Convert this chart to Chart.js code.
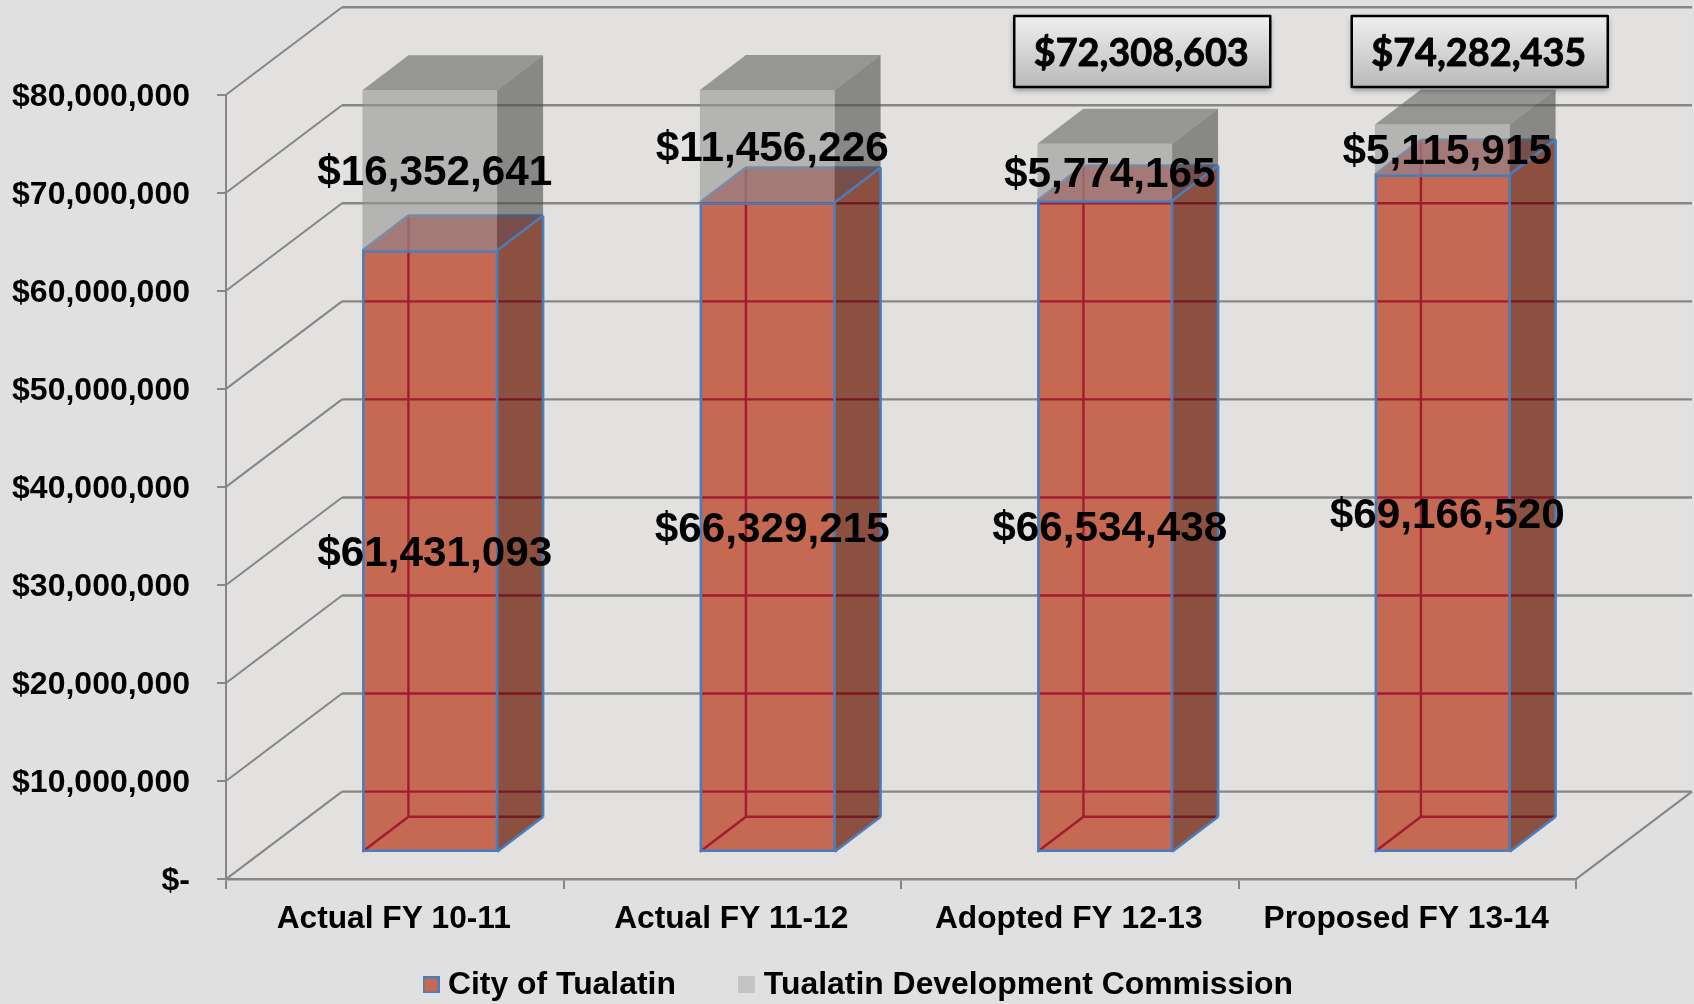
<!DOCTYPE html>
<html lang="en">
<head>
  <meta charset="UTF-8" />
  <title>City of Tualatin budget</title>
  <script src="https://cdn.jsdelivr.net/npm/chart.js"></script>
  <style>
    html, body { margin: 0; padding: 0; background: #e0e0e0; }
    canvas { display: block; }
  </style>
</head>
<body>
  <canvas id="chart" width="1694" height="1004"></canvas>
  <script>
    const categories = ['Actual FY 10-11', 'Actual FY 11-12', 'Adopted FY 12-13', 'Proposed FY 13-14'];
    const cityValues = [61431093, 66329215, 66534438, 69166520];
    const commissionValues = [16352641, 11456226, 5774165, 5115915];
    // only the last two columns carry a total box
    const totals = [null, null, 72308603, 74282435];
    const seriesNames = ['City of Tualatin', 'Tualatin Development Commission'];
    const tickMax = 80000000;
    const tickStep = 10000000;

    const FONT = '"Liberation Sans", Arial, sans-serif';
    const WALL = { x: 116, y: -87.5 };   // depth of the floor
    const BAR_OFFSET = { x: 35, y: -26.3 };  // front of the bars from the front of the floor
    const BAR_DEPTH = { x: 46, y: -35 };
    const GRID = '#868686';
    const BLUE = '#4a7ebb';
    const CRIMSON = '#a01c2e';
    const CRIMSON_DARK = '#741a24';

    function money(v) {
      return '$' + v.toLocaleString('en-US');
    }

    function swatch(fill, border) {
      const c = document.createElement('canvas');
      c.width = 17;
      c.height = 17;
      const g = c.getContext('2d');
      g.fillStyle = fill;
      g.fillRect(0, 0, 17, 17);
      if (border) {
        g.strokeStyle = border;
        g.lineWidth = 2;
        g.strokeRect(1, 1, 15, 15);
      }
      return c;
    }

    function poly(ctx, pts, fill) {
      ctx.beginPath();
      pts.forEach((p, i) => i ? ctx.lineTo(p[0], p[1]) : ctx.moveTo(p[0], p[1]));
      ctx.closePath();
      ctx.fillStyle = fill;
      ctx.fill();
    }

    function line(ctx, x1, y1, x2, y2, color, width) {
      ctx.beginPath();
      ctx.moveTo(x1, y1);
      ctx.lineTo(x2, y2);
      ctx.strokeStyle = color;
      ctx.lineWidth = width;
      ctx.stroke();
    }

    // front face rectangle of a bar element, moved to where it stands on the floor
    function face(bar) {
      return {
        l: bar.x - bar.width / 2 + BAR_OFFSET.x,
        r: bar.x + bar.width / 2 + BAR_OFFSET.x,
        t: bar.y + BAR_OFFSET.y,
        b: bar.base + BAR_OFFSET.y
      };
    }

    function sideFace(f) {
      return [[f.r, f.b], [f.r + BAR_DEPTH.x, f.b + BAR_DEPTH.y], [f.r + BAR_DEPTH.x, f.t + BAR_DEPTH.y], [f.r, f.t]];
    }

    function topFace(f) {
      return [[f.l, f.t], [f.r, f.t], [f.r + BAR_DEPTH.x, f.t + BAR_DEPTH.y], [f.l + BAR_DEPTH.x, f.t + BAR_DEPTH.y]];
    }

    const box3d = {
      id: 'box3d',
      afterLayout(chart) {
        // legend sits by hand under the axis labels
        chart.legend.left = 430 - chart.options.plugins.legend.labels.padding;
        chart.legend.right = chart.width;
        chart.legend.top = 985 - 16 - chart.options.plugins.legend.labels.padding;
      },
      beforeDraw(chart) {
        const { ctx, chartArea: a, scales: { y } } = chart;
        poly(ctx, [[a.left, a.bottom], [a.left, y.getPixelForValue(tickMax)], [a.left + WALL.x, y.getPixelForValue(tickMax) + WALL.y],
          [a.right + WALL.x, y.getPixelForValue(tickMax) + WALL.y], [a.right + WALL.x, a.bottom + WALL.y], [a.right, a.bottom]], '#e2e1df');
        for (let v = 0; v <= tickMax; v += tickStep) {
          const py = y.getPixelForValue(v);
          line(ctx, a.left, py, a.left + WALL.x, py + WALL.y, GRID, 2);
          line(ctx, a.left + WALL.x, py + WALL.y, a.right + WALL.x, py + WALL.y, GRID, 2.4);
        }
        line(ctx, a.right, a.bottom, a.right + WALL.x, a.bottom + WALL.y, GRID, 2);
      },
      beforeDatasetsDraw(chart) {
        const { ctx } = chart;
        const city = chart.getDatasetMeta(0).data;
        const comm = chart.getDatasetMeta(1).data;
        city.forEach((bar, i) => {
          const f = face(bar);
          const g = face(comm[i]);
          poly(ctx, sideFace(f), '#8c5041');
          poly(ctx, topFace(f), 'rgb(185,82,77)');
          // top edges and the hidden corner, these end up behind the grey block
          line(ctx, f.l + BAR_DEPTH.x, f.t + BAR_DEPTH.y, f.l + BAR_DEPTH.x, f.t, CRIMSON, 2.4);
          line(ctx, f.l, f.t, f.l + BAR_DEPTH.x, f.t + BAR_DEPTH.y, BLUE, 2.4);
          line(ctx, f.l + BAR_DEPTH.x, f.t + BAR_DEPTH.y, f.r + BAR_DEPTH.x, f.t + BAR_DEPTH.y, BLUE, 2.4);
          poly(ctx, sideFace(g), 'rgba(77,77,77,0.6)');
          poly(ctx, topFace(g), 'rgba(100,100,100,0.6)');
        });
        ctx.save();
        ctx.translate(BAR_OFFSET.x, BAR_OFFSET.y);
      },
      afterDatasetsDraw(chart) {
        const { ctx, scales: { y } } = chart;
        ctx.restore();
        const city = chart.getDatasetMeta(0).data;
        const comm = chart.getDatasetMeta(1).data;

        city.forEach((bar) => {
          const f = face(bar);
          const backL = f.l + BAR_DEPTH.x;
          const backR = f.r + BAR_DEPTH.x;
          const backB = f.b + BAR_DEPTH.y;
          const backT = f.t + BAR_DEPTH.y;
          // wall grid seen through the bar
          for (let v = 0; v <= tickMax; v += tickStep) {
            const py = y.getPixelForValue(v) + WALL.y;
            if (py > f.t) {
              line(ctx, f.l + 1, py, f.r, py, CRIMSON, 2.4);
              line(ctx, f.r, py, backR, py, CRIMSON_DARK, 2.4);
            }
          }
          // hidden edges
          line(ctx, backL, f.t, backL, backB, CRIMSON, 2.4);
          line(ctx, f.l, f.b, backL, backB, CRIMSON, 2.4);
          line(ctx, backL, backB, f.r, backB, CRIMSON, 2.4);
          line(ctx, f.r, backB, backR, backB, CRIMSON_DARK, 2.4);
          // visible edges
          ctx.lineJoin = 'round';
          line(ctx, f.r, f.t, f.r, f.b, BLUE, 2.6);
          line(ctx, f.l + 1, f.t, f.l + 1, f.b, BLUE, 2.6);
          line(ctx, f.l, f.b - 1, f.r, f.b - 1, BLUE, 2.6);
          line(ctx, f.l, f.t + 1, f.r, f.t + 1, BLUE, 2.6);
          line(ctx, f.r, f.t, backR, backT, BLUE, 2.6);
          line(ctx, backR, backT, backR, backB, BLUE, 2.6);
          line(ctx, f.r, f.b, backR, backB, BLUE, 2.6);
        });

        // value labels
        ctx.textAlign = 'center';
        ctx.textBaseline = 'middle';
        ctx.fillStyle = '#000';
        ctx.font = 'bold 42.3px ' + FONT;
        [[city, cityValues], [comm, commissionValues]].forEach(([bars, values]) => {
          bars.forEach((bar, i) => {
            const f = face(bar);
            ctx.fillText(money(values[i]), (f.l + f.r) / 2 + 5, (f.t + f.b) / 2 + 3);
          });
        });

        // total boxes
        totals.forEach((total, i) => {
          if (total === null) return;
          const cx = city[i].x + 72.5;
          const w = 256, top = 16, h = 71;
          const left = cx - w / 2;
          const grad = ctx.createLinearGradient(0, top, 0, top + h);
          grad.addColorStop(0, '#f0f0f0');
          grad.addColorStop(1, '#b9b9b9');
          ctx.save();
          ctx.shadowColor = 'rgba(0,0,0,0.4)';
          ctx.shadowBlur = 6;
          ctx.shadowOffsetY = 3;
          ctx.fillStyle = grad;
          ctx.fillRect(left, top, w, h);
          ctx.restore();
          ctx.strokeStyle = '#000';
          ctx.lineWidth = 2.5;
          ctx.strokeRect(left, top, w, h);
          ctx.fillStyle = '#000';
          ctx.font = 'bold 37.8px Lato, ' + FONT;
          ctx.fillText(money(total), cx - 1, top + h / 2 + 2);
          ctx.lineWidth = 0.9;
          ctx.strokeText(money(total), cx - 1, top + h / 2 + 2);
        });
      }
    };

    const chart = new Chart(document.getElementById('chart'), {
      type: 'bar',
      data: {
        labels: categories,
        datasets: [
          {
            label: seriesNames[0],
            data: cityValues,
            backgroundColor: '#c56952',
            borderWidth: 0,
            clip: false
          },
          {
            label: seriesNames[1],
            data: commissionValues,
            backgroundColor: 'rgba(150,150,150,0.6)',
            borderWidth: 0,
            clip: false
          }
        ]
      },
      plugins: [box3d],
      options: {
        responsive: false,
        animation: false,
        barPercentage: 0.399,
        categoryPercentage: 1,
        layout: { padding: { top: 94.7, left: 0, right: 118, bottom: -57 } },
        scales: {
          x: {
            stacked: true,
            afterFit(scale) { scale.height = 70; },
            border: { color: GRID, width: 2.4 },
            grid: { drawOnChartArea: false, tickLength: 10, color: GRID, lineWidth: 2 },
            ticks: { color: '#000', font: { family: FONT, weight: 'bold', size: 31.7 }, padding: 11, labelOffset: -1, maxRotation: 0 }
          },
          y: {
            stacked: true,
            min: 0,
            max: tickMax,
            afterFit(scale) { scale.width = 226; },
            border: { color: GRID, width: 2 },
            grid: { drawOnChartArea: false, tickLength: 9, color: GRID, lineWidth: 2 },
            ticks: {
              stepSize: tickStep,
              color: '#000',
              padding: 27,
              labelOffset: 2,
              font: { family: FONT, weight: 'bold', size: 32 },
              callback: (v) => v === 0 ? '$-' : money(v)
            }
          }
        },
        plugins: {
          tooltip: { enabled: false },
          legend: {
            position: 'bottom',
            align: 'start',
            labels: {
              font: { family: FONT, weight: 'bold', size: 31.9 },
              usePointStyle: true,
              pointStyleWidth: 2,
              boxHeight: 31.9,
              padding: 70,
              generateLabels: () => [
                { text: seriesNames[0], fontColor: '#000', pointStyle: swatch('#c56952', BLUE), datasetIndex: 0, hidden: false },
                { text: seriesNames[1], fontColor: '#000', pointStyle: swatch('#c4c4c4', null), datasetIndex: 1, hidden: false }
              ]
            }
          }
        }
      }
    });
  </script>
</body>
</html>
